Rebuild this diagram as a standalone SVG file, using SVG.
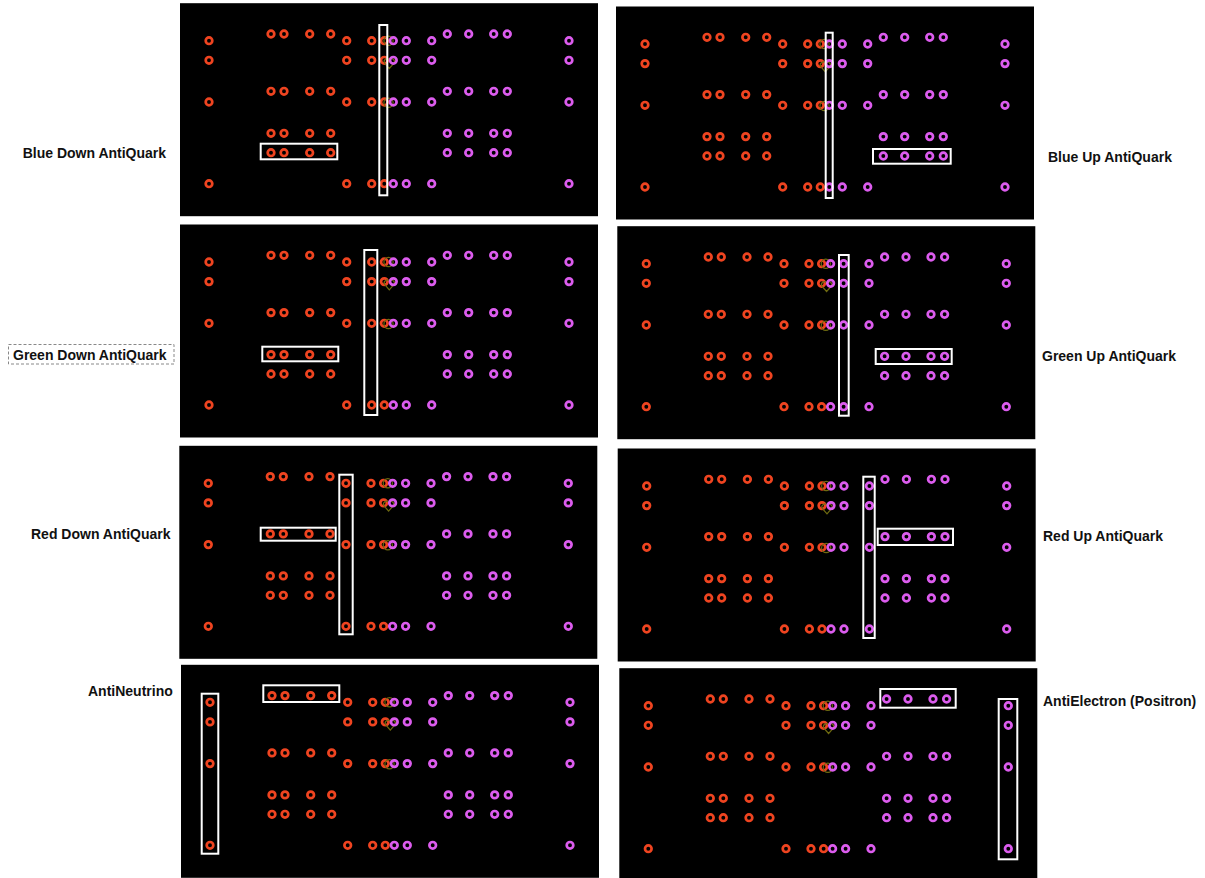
<svg xmlns="http://www.w3.org/2000/svg" xmlns:xlink="http://www.w3.org/1999/xlink" width="1205" height="878" viewBox="0 0 1205 878">
<style>
.bg{fill:#000}
.pins{fill:none;stroke-width:2.7}
.r{stroke:#ef4420}
.m{stroke:#dc5cee}
.ol{fill:none;stroke:#6e6a10;stroke-width:1.2}
.hl{fill:none;stroke:#fff;stroke-width:2}
.lbl{font-family:"Liberation Sans",Arial,sans-serif;font-weight:bold;font-size:14px;fill:#111}
.dash{fill:none;stroke:#888;stroke-width:1;stroke-dasharray:3 2}
</style>
<defs>
<g id="s"><circle cx="0" cy="0" r="3.3"/><circle cx="0" cy="19.6" r="3.3"/><circle cx="0" cy="61.3" r="3.3"/><circle cx="0" cy="143" r="3.3"/></g>
<g id="gr"><circle cx="0" cy="-6.7" r="3.3"/><circle cx="0" cy="50.6" r="3.3"/><circle cx="0" cy="92.6" r="3.3"/><circle cx="0" cy="112" r="3.3"/></g>
<g id="board">
<rect class="bg" x="-29" y="-37.5" width="418" height="213"/>
<g class="pins">
<use href="#s" x="0" class="r"/>
<use href="#gr" x="62" class="r"/>
<use href="#gr" x="75" class="r"/>
<use href="#gr" x="100.7" class="r"/>
<use href="#gr" x="121.7" class="r"/>
<use href="#s" x="137.7" class="r"/>
<use href="#s" x="162.7" class="r"/>
<use href="#s" x="175.3" class="r"/>
</g>
<g class="ol">
<circle cx="179.5" cy="0" r="4.6"/>
<path d="M180.3,27.8 L175.8,22.6 A2.6,2.6 0 0 1 180.3,19.2 A2.6,2.6 0 0 1 184.8,22.6 Z"/>
<circle cx="179.5" cy="62" r="4.6"/>
</g>
<g class="pins">
<use href="#s" x="184.3" class="m"/>
<use href="#s" x="197.3" class="m"/>
<use href="#s" x="222.7" class="m"/>
<use href="#gr" x="238.3" class="m"/>
<use href="#gr" x="259.7" class="m"/>
<use href="#gr" x="284.7" class="m"/>
<use href="#gr" x="298.3" class="m"/>
<use href="#s" x="360" class="m"/>
</g>
</g>
</defs>

<g id="panel-blue-down" transform="translate(209,40.7)">
<use href="#board"/>
<rect class="hl" x="170.3" y="-15.7" width="8" height="170.3"/>
<rect class="hl" x="51.7" y="103" width="76.6" height="15.6"/>
</g>
<g id="panel-blue-up" transform="translate(645,44)">
<use href="#board"/>
<rect class="hl" x="180.7" y="-11.3" width="7" height="165.3"/>
<rect class="hl" x="228" y="105" width="77.7" height="14.7"/>
</g>
<g id="panel-green-down" transform="translate(209,262)">
<use href="#board"/>
<rect class="hl" x="155.3" y="-12" width="13" height="165"/>
<rect class="hl" x="53.3" y="84.7" width="76" height="14.6"/>
</g>
<g id="panel-green-up" transform="translate(646.3,263.7)">
<use href="#board"/>
<rect class="hl" x="192.7" y="-8.7" width="9.7" height="160.7"/>
<rect class="hl" x="229.4" y="85.3" width="76" height="15"/>
</g>
<g id="panel-red-down" transform="translate(208.3,483.3)">
<use href="#board"/>
<rect class="hl" x="131" y="-8.6" width="13.4" height="159.6"/>
<rect class="hl" x="52.4" y="44.4" width="75" height="13"/>
</g>
<g id="panel-red-up" transform="translate(646.7,486)">
<use href="#board"/>
<rect class="hl" x="216.6" y="-9.3" width="11.4" height="161.3"/>
<rect class="hl" x="231" y="42.7" width="75.3" height="16.3"/>
</g>
<g id="panel-antineutrino" transform="translate(210,702.3)">
<use href="#board"/>
<rect class="hl" x="-8.3" y="-8.6" width="16.6" height="160"/>
<rect class="hl" x="53.3" y="-17" width="76" height="16.7"/>
</g>
<g id="panel-antielectron" transform="translate(648.3,705.7)">
<use href="#board"/>
<rect class="hl" x="350.4" y="-6.7" width="18.6" height="160.3"/>
<rect class="hl" x="232" y="-16.7" width="75.4" height="18.7"/>
</g>

<g id="labels">
<g id="label-blue-down"><text class="lbl" x="22.7" y="158">Blue Down AntiQuark</text></g>
<g id="label-green-down"><rect class="dash" x="8.5" y="344.5" width="165.5" height="19.5"/><text class="lbl" x="13" y="360">Green Down AntiQuark</text></g>
<g id="label-red-down"><text class="lbl" x="31" y="539">Red Down AntiQuark</text></g>
<g id="label-antineutrino"><text class="lbl" x="88" y="696">AntiNeutrino</text></g>
<g id="label-blue-up"><text class="lbl" x="1048" y="162">Blue Up AntiQuark</text></g>
<g id="label-green-up"><text class="lbl" x="1042" y="361">Green Up AntiQuark</text></g>
<g id="label-red-up"><text class="lbl" x="1043" y="541">Red Up AntiQuark</text></g>
<g id="label-antielectron"><text class="lbl" x="1043" y="706">AntiElectron (Positron)</text></g>
</g>
<g id="connectors"/>
</svg>
